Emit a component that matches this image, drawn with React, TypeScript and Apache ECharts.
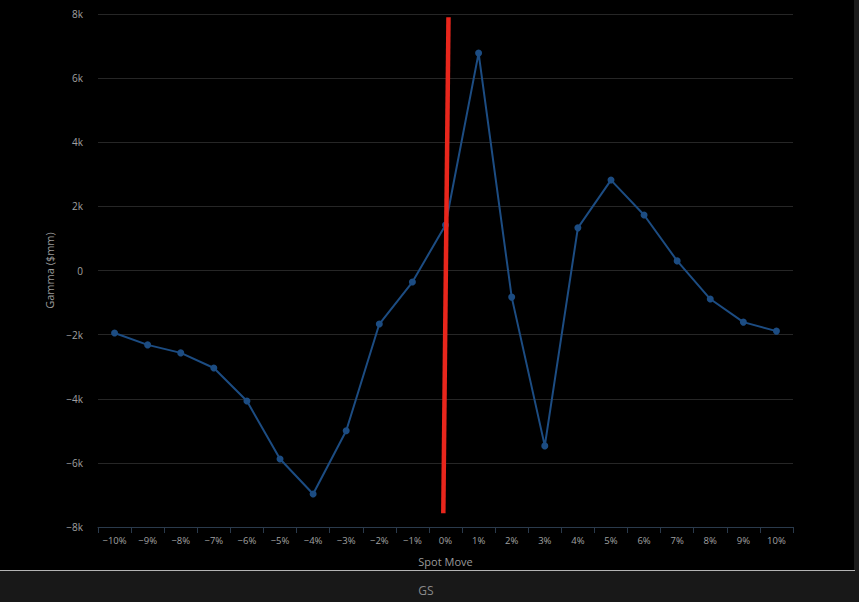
import React, { useEffect, useRef } from "react";
import * as echarts from "echarts";

const categories = ["-10%", "-9%", "-8%", "-7%", "-6%", "-5%", "-4%", "-3%", "-2%", "-1%", "0%", "1%", "2%", "3%", "4%", "5%", "6%", "7%", "8%", "9%", "10%"];
const gammaValues = [-1950, -2320, -2570, -3040, -4070, -5880, -6970, -5000, -1670, -360, 1420, 6780, -830, -5470, 1330, 2820, 1730, 300, -890, -1610, -1890];
const markerLine = [[0.09, 7900], [-0.066, -7570]];
const yTicks = { min: -8000, max: 8000, step: 2000 };
const footerText = "GS";

const minus = (s: string) => s.replace("-", "\u2212");

export default function App() {
  const ref = useRef<HTMLDivElement>(null);
  useEffect(() => {
    if (!ref.current) return;
    const chart = echarts.init(ref.current, null, { renderer: "svg" });
    const font = "'Open Sans', 'Noto Sans', sans-serif";
    chart.setOption({
      animation: false,
      backgroundColor: "#000000",
      textStyle: { fontFamily: font },
      graphic: [
        { type: "rect", shape: { x: 0, y: 571, width: 859, height: 31 }, style: { fill: "#181818" }, z: -10 },
        { type: "rect", shape: { x: 854, y: 0, width: 5, height: 571 }, style: { fill: "#1b1b1b" }, z: -10 },
        { type: "line", shape: { x1: 0, y1: 570.5, x2: 855, y2: 570.5 }, style: { stroke: "#b4b4b4", lineWidth: 1 } },
        { type: "text", x: 426, y: 590, style: { text: footerText, fill: "#8a8a8a", fontSize: 12, fontFamily: font, align: "center", verticalAlign: "middle" } },
      ],
      grid: { left: 98, right: 66, top: 14, bottom: 75, containLabel: false },
      xAxis: [
        {
          type: "category",
          data: categories,
          boundaryGap: true,
          name: "Spot Move",
          nameLocation: "middle",
          nameGap: 29,
          nameTextStyle: { color: "#9a9a9a", fontSize: 11, fontFamily: font },
          axisLine: { onZero: false, lineStyle: { color: "#2a3a4c", width: 1 } },
          axisTick: { show: true, length: 6, lineStyle: { color: "#2a3a4c" } },
          axisLabel: { color: "#a0a0a0", fontSize: 9.5, margin: 8, interval: 0, formatter: (v: string) => minus(v), fontFamily: font },
          splitLine: { show: false },
        },
        { type: "value", min: -10.5, max: 10.5, show: false, axisLine: { onZero: false } },
      ],
      yAxis: {
        type: "value",
        min: yTicks.min,
        max: yTicks.max,
        interval: yTicks.step,
        name: "Gamma ($mm)",
        nameLocation: "middle",
        nameGap: 42,
        nameTextStyle: { color: "#9a9a9a", fontSize: 11, fontFamily: font },
        axisLine: { show: false },
        axisTick: { show: false },
        axisLabel: {
          color: "#a0a0a0",
          fontSize: 10,
          margin: 15,
          fontFamily: font,
          formatter: (v: number) => (v === 0 ? "0" : minus(v / 1000 + "k")),
        },
        splitLine: { lineStyle: { color: "#262626", width: 1 } },
      },
      series: [
        {
          type: "line",
          data: gammaValues,
          symbol: "circle",
          symbolSize: 7,
          lineStyle: { color: "#1c4c82", width: 2 },
          itemStyle: { color: "#1c4c82" },
          z: 2,
        },
        {
          type: "line",
          xAxisIndex: 1,
          data: markerLine,
          symbol: "none",
          lineStyle: { color: "#e8261c", width: 4.5 },
          z: 3,
        },
      ],
    });
    return () => chart.dispose();
  }, []);
  return <div ref={ref} style={{ position: "fixed", left: 0, top: 0, width: 859, height: 602 }} />;
}
